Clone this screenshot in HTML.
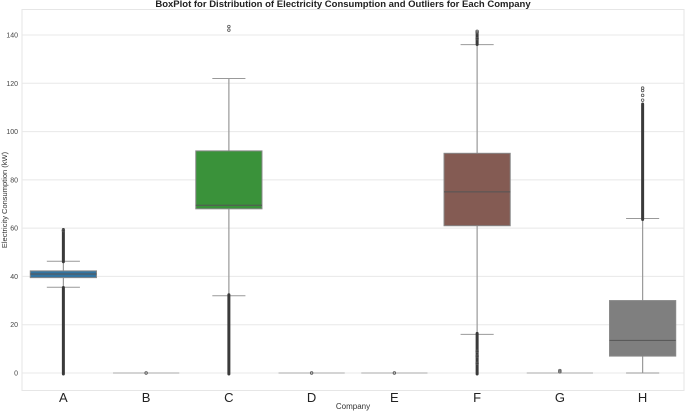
<!DOCTYPE html>
<html><head><meta charset="utf-8"><style>
html,body{margin:0;padding:0;background:#fff;}
svg{display:block;font-family:"Liberation Sans",sans-serif;}
</style></head><body>
<svg id="chart" width="685" height="413">
<text x="343" y="7" text-anchor="middle" font-size="9.5" font-weight="bold" fill="#222">BoxPlot for Distribution of Electricity Consumption and Outliers for Each Company</text>
<rect x="22" y="9.5" width="662" height="381" fill="none" stroke="#e6e6e6"/>
<g id="grid"></g><g id="marks"></g><g id="axes"></g>
<text x="353" y="409" text-anchor="middle" font-size="8" fill="#333">Company</text>
<text transform="translate(7,200) rotate(-90)" text-anchor="middle" font-size="7.5" fill="#333">Electricity Consumption (kW)</text>
</svg>
<script>
const categories=["A","B","C","D","E","F","G","H"];
const q1=[39.5,0,68,0,0,61,0,7];
const median=[41,0,69.5,0,0,75,0,13.5];
const q3=[42.3,0,92,0,0,91,0,30];
const whiskerLow=[35.5,0,32,0,0,16,0,0];
const whiskerHigh=[46.3,0,122,0,0,136,0,64];
const outlierLowSpan=[[0,35],null,[0,32],null,null,[0,16],null,null];
const outlierHighSpan=[[46.5,59],null,null,null,null,[136.5,140],null,[64,111]];
const outlierPoints=[[59],[0],[142,143.5],[0],[0],[141,141.5,138.5,4,7,9],[0.5,1],[113,115,117,118]];
const boxColors=["#3274a1","#3274a1","#3a923a","#c03d3e","#9372b2","#845b53","#d684bd","#7f7f7f"];
const yTicks=[0,20,40,60,80,100,120,140];
const NS="http://www.w3.org/2000/svg";
const L=22,R=684,band=(R-L)/categories.length;
const x=i=>L+band*(i+0.5);
const y=v=>373-v*(338/140);
function mk(t,a,p){const e=document.createElementNS(NS,t);for(const k in a)e.setAttribute(k,a[k]);p.appendChild(e);return e;}
const grid=document.getElementById('grid'),marks=document.getElementById('marks'),axes=document.getElementById('axes');
yTicks.forEach(v=>{
 const g=mk('line',{x1:L,x2:R,y1:y(v),y2:y(v),stroke:'#e8e8e8','stroke-width':1},grid);
 
 
 const t=mk('text',{x:18,y:y(v)+2.5,'text-anchor':'end','font-size':7,fill:'#444'},axes);
 t.textContent=v;
 
 
});
const bw=band*0.8;
categories.forEach((c,i)=>{
 const cx=x(i);
 const g=mk('g',{},marks);
 
 
 mk('line',{x1:cx,x2:cx,y1:y(whiskerLow[i]),y2:y(q1[i]),stroke:'#999','stroke-width':1.2},g);
 mk('line',{x1:cx,x2:cx,y1:y(q3[i]),y2:y(whiskerHigh[i]),stroke:'#999','stroke-width':1.2},g);
 mk('line',{x1:cx-bw/4,x2:cx+bw/4,y1:y(whiskerLow[i]),y2:y(whiskerLow[i]),stroke:'#999','stroke-width':1},g);
 mk('line',{x1:cx-bw/4,x2:cx+bw/4,y1:y(whiskerHigh[i]),y2:y(whiskerHigh[i]),stroke:'#999','stroke-width':1},g);
 const h=Math.max(y(q1[i])-y(q3[i]),0);
 if(h>0) mk('rect',{x:cx-bw/2,y:y(q3[i]),width:bw,height:h,fill:boxColors[i],stroke:'#888','stroke-width':1},g);
 mk('line',{x1:cx-bw/2,x2:cx+bw/2,y1:y(median[i]),y2:y(median[i]),stroke:h>0?'#555':'#aaa','stroke-width':1},g);
 [outlierLowSpan[i],outlierHighSpan[i]].forEach(s=>{
  if(!s)return;
  mk('line',{x1:cx,x2:cx,y1:y(s[0])+1,y2:y(s[1])-1,stroke:'#3a3a3a','stroke-width':3,'stroke-linecap':'round'},g);
 });
 outlierPoints[i].forEach(v=>{
  const p=mk('circle',{cx:cx,cy:y(v),r:1.3,fill:'none',stroke:'#555','stroke-width':0.8},g);
  
  
 });
 const t=mk('text',{x:cx,y:402,'text-anchor':'middle','font-size':13,fill:'#222'},axes);
 t.textContent=c;
 
 
});
</script>
</body></html>
